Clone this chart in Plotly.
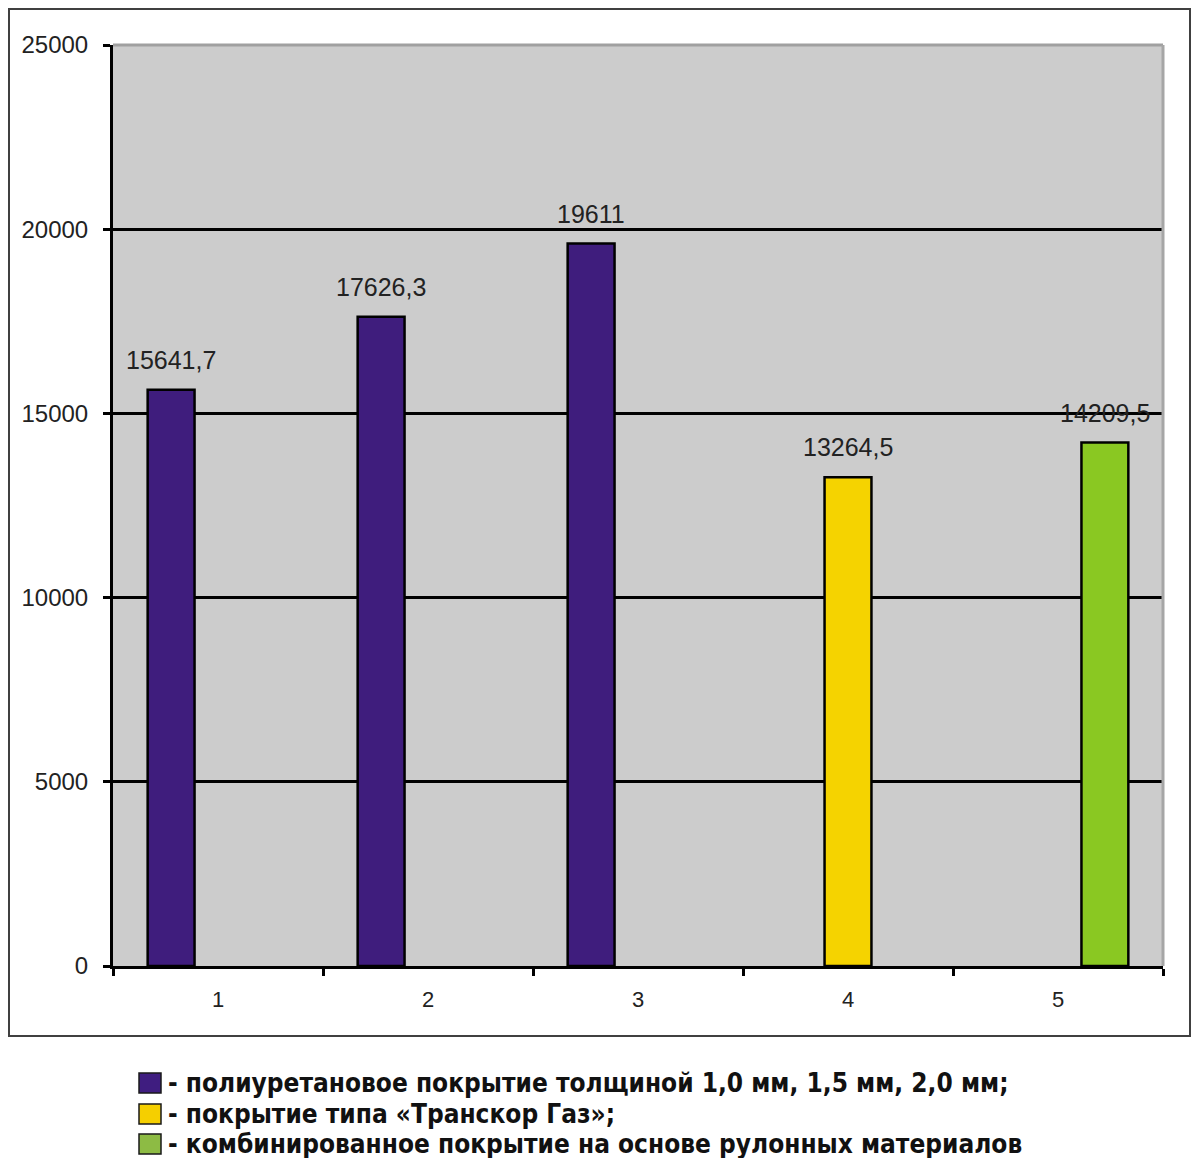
import plotly.graph_objects as go

# ---- data ----
categories = ["1", "2", "3", "4", "5"]
poly_values = [15641.7, 17626.3, 19611, None, None]
transkor_values = [None, None, None, 13264.5, None]
combined_values = [None, None, None, None, 14209.5]
series_names = [
    "- полиуретановое покрытие толщиной 1,0 мм, 1,5 мм, 2,0 мм;",
    "- покрытие типа «Транскор Газ»;",
    "- комбинированное покрытие на основе рулонных материалов",
]
y_tick_values = [0, 5000, 10000, 15000, 20000, 25000]
y_tick_labels = ["0", "5000", "10000", "15000", "20000", "25000"]

# ---- style ----
bar_colors = ["#3F1D7D", "#F5D300", "#8AC822"]
legend_colors = ["#3F1D80", "#F5CF00", "#8DBB44"]
OFF = 8                     # page body margin of the browser
W, H = 1200 - 2 * OFF, 1166 - 2 * OFF
# target screen positions of the plot area
SL, SR, ST, SB = 113, 1163, 45, 966
L, R, T, B = SL - OFF, SR - OFF, ST - OFF, SB - OFF
BARGAP = 0.33


def px_x(p):
    """screen x pixel -> paper"""
    return (p - SL) / (SR - SL)


def px_y(p):
    """screen y pixel -> paper"""
    return (SB - p) / (SB - ST)


def fmt(v):
    return f"{v:g}".replace(".", ",")


fig = go.Figure()
all_series = [poly_values, transkor_values, combined_values]
for vals, color, name in zip(all_series, bar_colors, series_names):
    fig.add_trace(go.Bar(
        x=categories, y=vals, name=name,
        marker=dict(color=color, line=dict(color="black", width=2.5)),
        showlegend=False,
    ))

slot = (1 - BARGAP) / len(all_series)
annotations = []
for k, vals in enumerate(all_series):
    off = (k - (len(all_series) - 1) / 2) * slot
    for i, v in enumerate(vals):
        if v is None:
            continue
        annotations.append(dict(
            x=i + off, y=v, xref="x", yref="y", text=fmt(v), showarrow=False,
            yanchor="bottom", xanchor="center", yshift=14,
            font=dict(family="Liberation Sans, Arial", size=25, color="#222222"),
        ))

shapes = [
    # gray top and right border of plot area
    dict(type="line", xref="paper", yref="paper", x0=0, x1=1, y0=1, y1=1,
         line=dict(color="#A0A0A0", width=3), layer="above"),
    dict(type="line", xref="paper", yref="paper", x0=1, x1=1, y0=0, y1=1,
         line=dict(color="#A6A6A6", width=3), layer="above"),
    # outer frame
    dict(type="rect", xref="paper", yref="paper",
         x0=px_x(9), x1=px_x(1190), y0=px_y(1036), y1=px_y(9),
         line=dict(color="#404040", width=2), fillcolor="rgba(0,0,0,0)", layer="below"),
]

row_y = [1083, 1114, 1144]
for ry, col, name in zip(row_y, legend_colors, series_names):
    shapes.append(dict(type="rect", xref="paper", yref="paper",
                       x0=px_x(139), x1=px_x(161), y0=px_y(ry + 10), y1=px_y(ry - 10),
                       line=dict(color="#1a1a1a", width=1.5), fillcolor=col))
    annotations.append(dict(
        x=px_x(166), y=px_y(ry), xref="paper", yref="paper", text="<b>" + name + "</b>",
        showarrow=False, xanchor="left", yanchor="middle",
        font=dict(family="DejaVu Sans Condensed, DejaVu Sans", size=26, color="#111111"),
    ))

fig.update_layout(
    width=W, height=H,
    margin=dict(l=L, r=W - R, t=T, b=H - B, pad=0),
    paper_bgcolor="white", plot_bgcolor="#CCCCCC",
    barmode="group", bargap=BARGAP, bargroupgap=0,
    annotations=annotations, shapes=shapes,
    xaxis=dict(
        type="category", tickson="boundaries", ticks="outside", ticklen=7,
        tickwidth=2.5, tickcolor="black", showline=True, linecolor="black", linewidth=3,
        showgrid=False, ticklabelstandoff=12,
        tickfont=dict(family="Liberation Sans, Arial", size=22, color="#222222"),
    ),
    yaxis=dict(
        range=[0, 25000], tickvals=y_tick_values, ticktext=y_tick_labels,
        ticks="outside", ticklen=7,
        tickwidth=2.5, tickcolor="black", showline=True, linecolor="black", linewidth=3,
        showgrid=True, gridcolor="black", gridwidth=2.5, zeroline=False,
        ticklabelstandoff=10,
        tickfont=dict(family="Liberation Sans, Arial", size=24, color="#222222"),
    ),
)

fig.write_html("out.html")
